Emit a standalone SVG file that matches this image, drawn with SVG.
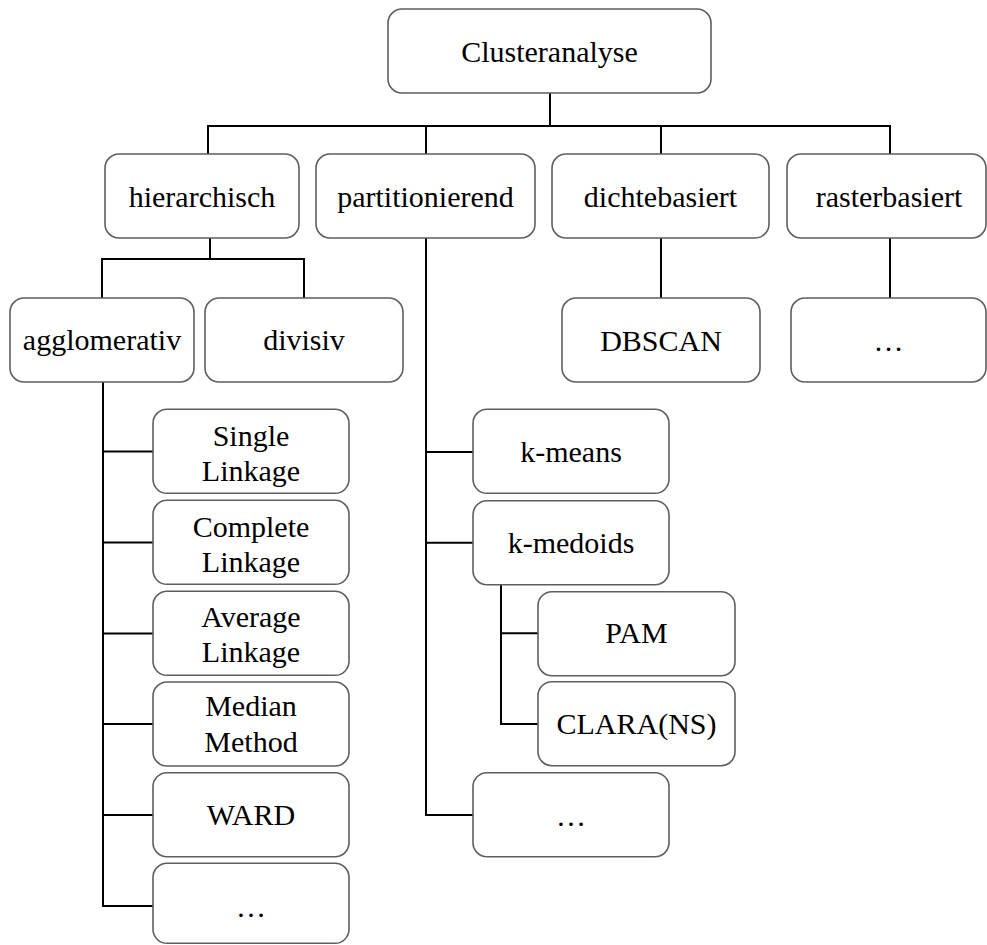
<svg xmlns="http://www.w3.org/2000/svg" width="987" height="945" viewBox="0 0 987 945">
  <style>
    .box { fill: #ffffff; stroke: #5e5e5e; stroke-width: 1.6; }
    .lbl { font-family: "Liberation Serif", "Times New Roman", serif; font-size: 30px; fill: #000000; text-anchor: middle; }
    .conn { fill: none; stroke: #000000; stroke-width: 2; stroke-linecap: square; stroke-linejoin: miter; }
  </style>
  <rect width="987" height="945" fill="#ffffff"/>

  <!-- connectors -->
  <g id="connectors" class="conn">
    <path d="M550,93 V126 M208,126 H890 M208,126 V154 M426,126 V154 M661,126 V154 M890,126 V154"/>
    <path d="M210,238 V259 M102,259 H304 M102,259 V298 M304,259 V298"/>
    <path d="M103,382 V906 M103,451.5 H153 M103,542.5 H153 M103,633.5 H153 M103,724 H153 M103,815 H153 M103,906 H153"/>
    <path d="M426,238 V815 M426,452 H473 M426,542.7 H473 M426,815 H473"/>
    <path d="M501,584.7 V724 M501,633.3 H538 M501,724 H538"/>
    <path d="M661,238 V298 M890,238 V298"/>
  </g>

  <!-- top level -->
  <g id="n-clusteranalyse">
    <rect class="box" x="388" y="9" width="323" height="84" rx="14"/>
    <text class="lbl" x="549.5" y="62">Clusteranalyse</text>
  </g>

  <!-- families -->
  <g id="n-hierarchisch">
    <rect class="box" x="105" y="154" width="194" height="84" rx="14"/>
    <text class="lbl" x="202" y="206.5">hierarchisch</text>
  </g>
  <g id="n-partitionierend">
    <rect class="box" x="316" y="154" width="219" height="84" rx="14"/>
    <text class="lbl" x="425.5" y="206.5">partitionierend</text>
  </g>
  <g id="n-dichtebasiert">
    <rect class="box" x="552" y="154" width="217" height="84" rx="14"/>
    <text class="lbl" x="660.5" y="206.5">dichtebasiert</text>
  </g>
  <g id="n-rasterbasiert">
    <rect class="box" x="787" y="154" width="199" height="84" rx="14"/>
    <text class="lbl" x="889" y="206.5">rasterbasiert</text>
  </g>

  <!-- hierarchical branches -->
  <g id="n-agglomerativ">
    <rect class="box" x="10" y="298" width="184" height="84" rx="14"/>
    <text class="lbl" x="102" y="350">agglomerativ</text>
  </g>
  <g id="n-divisiv">
    <rect class="box" x="205" y="298" width="198" height="84" rx="14"/>
    <text class="lbl" x="304" y="350">divisiv</text>
  </g>

  <!-- density / grid children -->
  <g id="n-dbscan">
    <rect class="box" x="562" y="298" width="198" height="84" rx="14"/>
    <text class="lbl" x="661" y="350.5">DBSCAN</text>
  </g>
  <g id="n-raster-more">
    <rect class="box" x="791" y="298" width="195" height="84" rx="14"/>
    <text class="lbl" x="888.5" y="351">…</text>
  </g>

  <!-- agglomerative methods -->
  <g id="n-single">
    <rect class="box" x="153" y="409.3" width="196" height="84" rx="14"/>
    <text class="lbl" x="251" y="445.5">Single</text>
    <text class="lbl" x="251" y="480.5">Linkage</text>
  </g>
  <g id="n-complete">
    <rect class="box" x="153" y="500.3" width="196" height="84" rx="14"/>
    <text class="lbl" x="251" y="536.7">Complete</text>
    <text class="lbl" x="251" y="571.7">Linkage</text>
  </g>
  <g id="n-average">
    <rect class="box" x="153" y="591.3" width="196" height="84" rx="14"/>
    <text class="lbl" x="251" y="626.7">Average</text>
    <text class="lbl" x="251" y="661.7">Linkage</text>
  </g>
  <g id="n-median">
    <rect class="box" x="153" y="682" width="196" height="84" rx="14"/>
    <text class="lbl" x="251" y="716">Median</text>
    <text class="lbl" x="251" y="752">Method</text>
  </g>
  <g id="n-ward">
    <rect class="box" x="153" y="772.7" width="196" height="84" rx="14"/>
    <text class="lbl" x="251" y="825">WARD</text>
  </g>
  <g id="n-agglo-more">
    <rect class="box" x="153" y="863.3" width="196" height="80" rx="14"/>
    <text class="lbl" x="251" y="916.5">…</text>
  </g>

  <!-- partitioning methods -->
  <g id="n-kmeans">
    <rect class="box" x="473" y="409.3" width="196" height="84" rx="14"/>
    <text class="lbl" x="571" y="461.7">k-means</text>
  </g>
  <g id="n-kmedoids">
    <rect class="box" x="473" y="500.7" width="196" height="84" rx="14"/>
    <text class="lbl" x="571" y="553.3">k-medoids</text>
  </g>
  <g id="n-pam">
    <rect class="box" x="538" y="591.7" width="197" height="84" rx="14"/>
    <text class="lbl" x="636.5" y="643">PAM</text>
  </g>
  <g id="n-clara">
    <rect class="box" x="538" y="681.7" width="197" height="84" rx="14"/>
    <text class="lbl" x="636.5" y="734">CLARA(NS)</text>
  </g>
  <g id="n-part-more">
    <rect class="box" x="473" y="772.7" width="196" height="84" rx="14"/>
    <text class="lbl" x="571" y="825.5">…</text>
  </g>
</svg>
